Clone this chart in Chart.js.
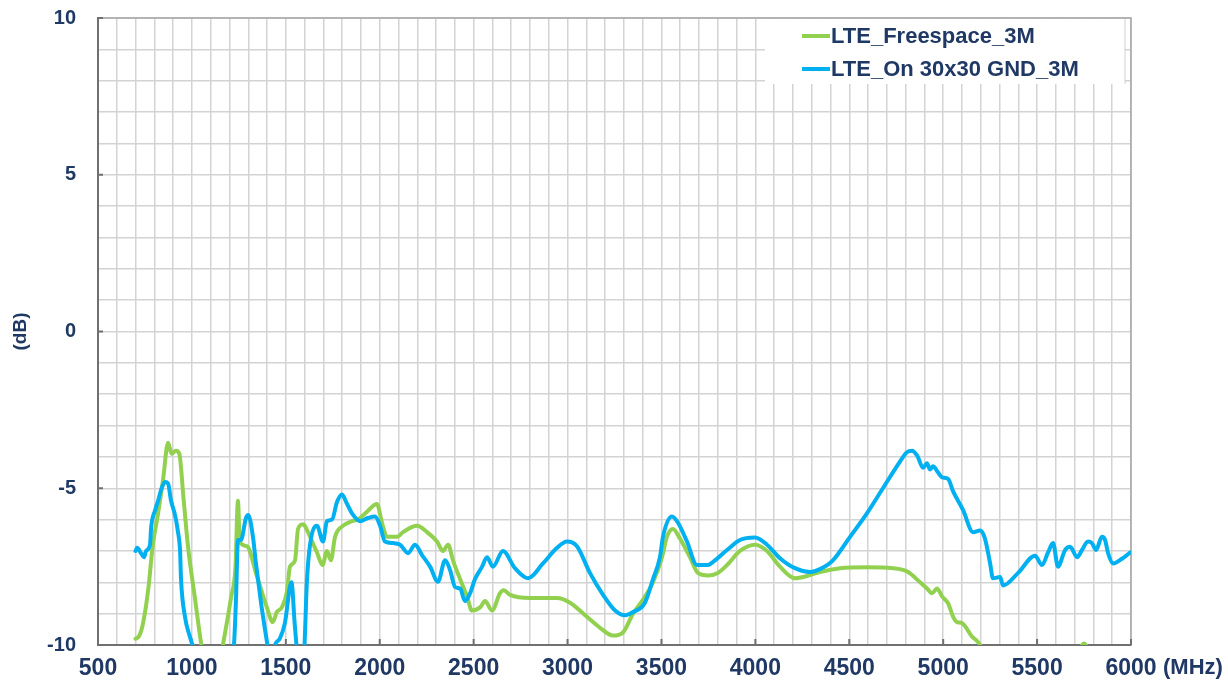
<!DOCTYPE html>
<html>
    <head>
        <title> LTE Gain </title>
        <script src = "https://cdn.jsdelivr.net/npm/chart.js"> </script>
        <style>
            body { margin: 0; background: #ffffff; }
        </style>
    </head>

    <body onload = "createChart()">

            <div>
                <canvas id="myChart" width="1228" height="688"></canvas>
            </div>

            <script>
                // values (MHz / dB)
                const freespaceFreq = [700, 720, 740, 770, 790, 820, 846, 873, 892, 915, 933, 955, 980, 1016, 1049, 1075, 1140, 1165, 1208, 1232, 1245, 1255, 1293, 1346, 1399, 1431, 1452, 1479, 1506, 1522, 1549, 1565, 1592, 1618, 1640, 1666, 1695, 1719, 1740, 1762, 1804, 1852, 1884, 1932, 1985, 2012, 2039, 2092, 2124, 2199, 2252, 2305, 2337, 2364, 2390, 2428, 2465, 2491, 2534, 2561, 2598, 2640, 2660, 2694, 2800, 2944, 3013, 3103, 3173, 3242, 3295, 3349, 3402, 3455, 3503, 3529, 3561, 3598, 3652, 3694, 3747, 3800, 3849, 3918, 3998, 4062, 4131, 4211, 4275, 4344, 4451, 4594, 4733, 4813, 4877, 4914, 4941, 4967, 4994, 5026, 5053, 5074, 5100, 5153, 5196, 5240, 5650, 5720, 5750, 5780, 5850, 6000];
                const freespaceDb = [-9.8, -9.7, -9.3, -8.1, -6.9, -5.8, -4.75, -3.55, -3.9, -3.8, -3.9, -5.3, -6.9, -8.5, -9.95, -10.8, -10.8, -10, -8.5, -7.5, -5.4, -6.7, -6.85, -7.8, -8.8, -9.27, -8.95, -8.8, -8.3, -7.5, -7.3, -6.3, -6.15, -6.4, -6.7, -7.05, -7.45, -7.0, -7.3, -6.55, -6.2, -6.05, -6.0, -5.75, -5.5, -6.1, -6.55, -6.55, -6.4, -6.2, -6.4, -6.7, -7.0, -6.8, -7.3, -7.9, -8.45, -8.9, -8.8, -8.6, -8.9, -8.35, -8.25, -8.4, -8.5, -8.5, -8.65, -9.1, -9.45, -9.7, -9.6, -9.0, -8.55, -8.0, -7.2, -6.55, -6.3, -6.6, -7.2, -7.7, -7.78, -7.7, -7.45, -7.0, -6.8, -7.0, -7.5, -7.87, -7.8, -7.67, -7.55, -7.52, -7.55, -7.67, -8.0, -8.2, -8.35, -8.2, -8.45, -8.67, -9.1, -9.27, -9.3, -9.73, -10, -10.8, -10.8, -10.2, -9.95, -10.2, -10.8, -10.8];

                const gndFreq = [700, 708, 729, 745, 756, 777, 783, 804, 820, 836, 857, 873, 889, 910, 926, 937, 942, 963, 990, 1020, 1060, 1190, 1224, 1235, 1245, 1261, 1288, 1300, 1325, 1341, 1368, 1389, 1405, 1420, 1430, 1442, 1468, 1495, 1530, 1547, 1560, 1580, 1598, 1612, 1629, 1666, 1698, 1719, 1746, 1772, 1799, 1826, 1852, 1895, 1937, 1975, 2002, 2028, 2071, 2108, 2151, 2188, 2225, 2268, 2310, 2348, 2374, 2401, 2428, 2454, 2481, 2507, 2545, 2571, 2603, 2656, 2720, 2789, 2869, 2944, 2997, 3050, 3119, 3189, 3253, 3306, 3349, 3412, 3455, 3492, 3508, 3556, 3588, 3636, 3689, 3747, 3775, 3849, 3918, 3998, 4062, 4131, 4211, 4291, 4344, 4413, 4504, 4594, 4679, 4770, 4807, 4834, 4861, 4893, 4914, 4930, 4946, 4973, 4994, 5026, 5053, 5106, 5159, 5196, 5222, 5250, 5265, 5303, 5319, 5399, 5489, 5526, 5558, 5585, 5611, 5649, 5676, 5713, 5739, 5771, 5792, 5814, 5845, 5862, 5878, 5905, 5952, 5995];
                const gndDb = [-7.0, -6.9, -7.07, -7.2, -7.0, -6.8, -6.25, -5.7, -5.4, -5.05, -4.8, -4.85, -5.4, -5.85, -6.4, -7.0, -7.9, -9.1, -9.75, -10.3, -11, -11, -10.0, -8.5, -6.65, -6.65, -5.95, -5.85, -6.55, -7.4, -8.65, -9.5, -10.1, -10.6, -10.4, -10, -9.8, -9.3, -8.0, -9.3, -10.2, -11, -10.2, -8.0, -6.8, -6.2, -6.7, -6.05, -6.0, -5.45, -5.2, -5.5, -5.8, -6.05, -5.95, -5.9, -6.2, -6.7, -6.75, -6.8, -7.07, -6.8, -7.13, -7.5, -7.98, -7.3, -7.6, -8.15, -8.2, -8.6, -8.35, -7.9, -7.5, -7.2, -7.5, -7.0, -7.55, -7.87, -7.4, -6.9, -6.7, -6.85, -7.7, -8.4, -8.9, -9.05, -8.95, -8.65, -7.9, -7.2, -6.55, -5.9, -6.1, -6.7, -7.45, -7.45, -7.35, -6.97, -6.65, -6.57, -6.8, -7.23, -7.55, -7.67, -7.58, -7.3, -6.55, -5.8, -5.0, -4.15, -3.85, -3.8, -3.95, -4.35, -4.2, -4.4, -4.3, -4.5, -4.65, -4.7, -5.1, -5.7, -6.4, -6.35, -6.6, -7.4, -7.87, -7.83, -8.1, -7.7, -7.15, -7.45, -7.05, -6.75, -7.5, -6.97, -6.87, -7.2, -6.97, -6.7, -6.75, -6.97, -6.55, -6.65, -7.07, -7.4, -7.25, -7.05];

                const seriesNames = ['LTE_Freespace_3M', 'LTE_On 30x30 GND_3M'];
                const xTickLabels = [500, 1000, 1500, 2000, 2500, 3000, 3500, 4000, 4500, 5000, 5500, 6000];
                const yTickLabels = [-10, -5, 0, 5, 10];

                const navy = '#1F3864';
                const green = '#92D050';
                const blue = '#00B0F0';

                function toPoints(xs, ys) {
                    return xs.map((x, i) => ({ x: x, y: ys[i] }));
                }

                // frame, inner tick marks, (MHz) unit and the boxed legend
                const decorations = {
                    id: 'decorations',
                    beforeDatasetsDraw(chart) {
                        const ctx = chart.ctx;
                        const a = chart.chartArea;
                        const xs = chart.scales.x, ys = chart.scales.y;
                        ctx.save();
                        ctx.strokeStyle = '#A6A6A6';
                        ctx.lineWidth = 1.5;
                        ctx.beginPath();
                        ctx.moveTo(a.left, a.top);
                        ctx.lineTo(a.right, a.top);
                        ctx.lineTo(a.right, a.bottom);
                        ctx.stroke();
                        ctx.strokeStyle = '#707070';
                        ctx.lineWidth = 2;
                        ctx.beginPath();
                        xTickLabels.forEach(v => {
                            const px = xs.getPixelForValue(v);
                            ctx.moveTo(px, a.bottom);
                            ctx.lineTo(px, a.bottom - 6);
                        });
                        yTickLabels.forEach(v => {
                            const py = ys.getPixelForValue(v);
                            ctx.moveTo(a.left, py);
                            ctx.lineTo(a.left + 5, py);
                        });
                        ctx.stroke();
                        ctx.restore();
                    },
                    afterDraw(chart) {
                        const ctx = chart.ctx;
                        const a = chart.chartArea;
                        ctx.save();
                        // unit label to the right of the last x tick
                        ctx.fillStyle = navy;
                        ctx.font = 'bold 22px "Liberation Sans Narrow", "Liberation Sans", Arial';
                        ctx.textBaseline = 'middle';
                        ctx.textAlign = 'left';
                        ctx.fillText('(MHz)', a.right + 32, a.bottom + 23);

                        // legend box
                        const boxL = a.right - 366, boxT = a.top + 1, boxW = 360, boxH = 65;
                        ctx.fillStyle = '#ffffff';
                        ctx.fillRect(boxL, boxT, boxW, boxH);
                        ctx.strokeStyle = '#D0D0D0';
                        ctx.lineWidth = 1;
                        ctx.beginPath();
                        ctx.moveTo(boxL + boxW, boxT);
                        ctx.lineTo(boxL + boxW, boxT + boxH);
                        ctx.stroke();
                        ctx.font = 'bold 22px "Liberation Sans", Arial';
                        ctx.textBaseline = 'middle';
                        const order = [1, 0];
                        order.forEach((di, row) => {
                            const ds = chart.data.datasets[di];
                            const cy = a.top + 18 + row * 33;
                            ctx.strokeStyle = ds.borderColor;
                            ctx.lineWidth = 4;
                            ctx.beginPath();
                            ctx.moveTo(boxL + 37, cy);
                            ctx.lineTo(boxL + 65, cy);
                            ctx.stroke();
                            ctx.fillStyle = navy;
                            ctx.fillText(ds.label, boxL + 66, cy + 1);
                        });
                        ctx.restore();
                    }
                };

                function createChart() {
                    const ctx = document.getElementById('myChart');

                    new Chart(ctx, {
                        type: 'line',
                        data: {
                            datasets: [{
                                label: seriesNames[1],
                                data: toPoints(gndFreq, gndDb),
                                borderColor: blue,
                                borderWidth: 4,
                                order: 0
                            }, {
                                label: seriesNames[0],
                                data: toPoints(freespaceFreq, freespaceDb),
                                borderColor: green,
                                borderWidth: 4,
                                order: 1
                            }]
                        },
                        options: {
                            responsive: false,
                            animation: false,
                            clip: 0,
                            datasets: {
                                line: {
                                    pointRadius: 0,
                                    fill: false,
                                    cubicInterpolationMode: 'monotone',
                                    borderJoinStyle: 'round',
                                    borderCapStyle: 'round'
                                }
                            },
                            layout: {
                                padding: { top: 18, right: 97, left: 0, bottom: 0 }
                            },
                            plugins: {
                                legend: { display: false },
                                tooltip: { enabled: false }
                            },
                            scales: {
                                x: {
                                    type: 'linear',
                                    min: 500,
                                    max: 6000,
                                    afterFit: (scale) => {
                                        scale.height = 43;
                                        scale.paddingLeft = 0;
                                        scale.paddingRight = 0;
                                    },
                                    afterBuildTicks: (scale) => {
                                        const t = [];
                                        for (let v = 500; v <= 6000; v += 100) t.push({ value: v });
                                        scale.ticks = t;
                                    },
                                    grid: { color: '#D3D3D3', lineWidth: 1.5, drawTicks: false },
                                    border: { display: true, color: '#707070', width: 2 },
                                    ticks: {
                                        autoSkip: false,
                                        maxRotation: 0,
                                        padding: 10,
                                        color: navy,
                                        font: { family: '"Liberation Sans Narrow", "Liberation Sans", Arial', size: 23, weight: 'bold' },
                                        callback: (v) => xTickLabels.includes(v) ? String(v) : ''
                                    }
                                },
                                y: {
                                    min: -10,
                                    max: 10,
                                    afterFit: (scale) => {
                                        scale.width = 98;
                                        scale.paddingTop = 0;
                                        scale.paddingBottom = 0;
                                    },
                                    afterBuildTicks: (scale) => {
                                        const t = [];
                                        for (let v = -10; v <= 10; v += 1) t.push({ value: v });
                                        scale.ticks = t;
                                    },
                                    grid: { color: '#D3D3D3', lineWidth: 1.5, drawTicks: false },
                                    border: { display: true, color: '#707070', width: 2 },
                                    title: {
                                        display: true,
                                        text: '(dB)',
                                        color: navy,
                                        padding: { top: 9, bottom: 0 },
                                        font: { family: '"Liberation Sans", Arial', size: 19, weight: 'bold' }
                                    },
                                    ticks: {
                                        autoSkip: false,
                                        padding: 22,
                                        color: navy,
                                        font: { family: '"Liberation Sans", Arial', size: 20, weight: 'bold' },
                                        callback: (v) => yTickLabels.includes(v) ? String(v) : ''
                                    }
                                }
                            }
                        },
                        plugins: [decorations]
                    });
                }

            </script>

    </body>
</html>
